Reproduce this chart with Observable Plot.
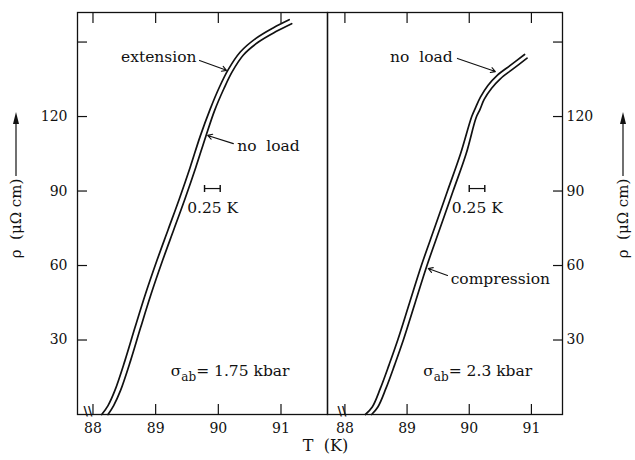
<!DOCTYPE html>
<html>
<head>
<meta charset="utf-8">
<script src="https://cdn.jsdelivr.net/npm/d3@7"></script>
<script src="https://cdn.jsdelivr.net/npm/@observablehq/plot@0.6"></script>
<style>
  html, body { margin: 0; padding: 0; background: #fff; }
  #wrap { position: relative; width: 635px; height: 460px; overflow: hidden; }
  #wrap svg { position: absolute; top: 0; overflow: visible; }
</style>
</head>
<body>
<div id="wrap"></div>
<script>
// ---------- data (T in K, rho in µΩ cm) ----------
const xTicks = [88, 89, 90, 91];
const yTicks = [30, 60, 90, 120, 150];
const yTickLabels = [30, 60, 90, 120];

// left panel, sigma_ab = 1.75 kbar
const leftExtensionT   = [88.14, 88.24, 88.35, 88.51, 88.67, 88.84, 89.02, 89.20, 89.38, 89.55, 89.71, 89.87, 90.02, 90.16, 90.35, 90.60, 90.88, 91.13];
const leftExtensionRho = [0, 3.6, 9.7, 21.7, 35, 48.7, 62, 74.5, 87, 99.5, 112, 123, 132, 139, 146, 151.5, 155.8, 159];
const leftNoLoadT      = [88.24, 88.33, 88.44, 88.60, 88.76, 88.93, 89.11, 89.29, 89.47, 89.64, 89.80, 89.94, 90.09, 90.22, 90.40, 90.64, 90.92, 91.17];
const leftNoLoadRho    = [0, 3.6, 9.7, 21.7, 35, 48.7, 62, 74.5, 87, 99.5, 112, 122.4, 131.3, 138, 144.8, 150, 154.2, 157.4];

// right panel, sigma_ab = 2.3 kbar
const rightNoLoadT        = [88.33, 88.44, 88.57, 88.71, 88.85, 89.04, 89.23, 89.44, 89.65, 89.86, 90.04, 90.10, 90.18, 90.30, 90.45, 90.66, 90.89];
const rightNoLoadRho      = [0, 3, 10.5, 20, 30, 45, 60, 75, 90, 105, 120, 123.5, 127.8, 132.5, 136.6, 140.6, 145];
const rightCompressionT   = [88.43, 88.53, 88.66, 88.80, 88.94, 89.13, 89.32, 89.53, 89.74, 89.95, 90.11, 90.17, 90.24, 90.36, 90.50, 90.70, 90.93];
const rightCompressionRho = [0, 3, 10.5, 20, 30, 45, 60, 75, 90, 105, 119.5, 122.7, 126.9, 131.4, 135.2, 139.1, 143.5];

// annotations (data coordinates)
const leftTexts  = [
  {text: "extension", T: 89.05, rho: 143.8},
  {text: "no  load",  T: 90.80, rho: 108.3},
  {text: "0.25 K",    T: 89.91, rho: 83}
];
const leftArrows = [
  {x1: 89.70, y1: 142.6, x2: 90.13, y2: 138.6},
  {x1: 90.24, y1: 109.1, x2: 89.83, y2: 112.4}
];
const leftBar   = [{x1: 89.78, x2: 90.03, y: 91}];
const leftSigma = [{text: "σab= 1.75 kbar", T: 89.24, rho: 17.7}];

const rightTexts = [
  {text: "no  load",    T: 89.23, rho: 143.8},
  {text: "compression", T: 90.50, rho: 54.4},
  {text: "0.25 K",      T: 90.13, rho: 83}
];
const rightArrows = [
  {x1: 89.81, y1: 143.4, x2: 90.42, y2: 138.1},
  {x1: 89.65, y1: 56.0,  x2: 89.34, y2: 58.8}
];
const rightBar   = [{x1: 90.00, x2: 90.25, y: 91}];
const rightSigma = [{text: "σab= 2.3 kbar", T: 89.26, rho: 17.7}];

const yLabel = "ρ  (μΩ cm)";
const xLabel = "T  (K)";

// ---------- drawing ----------
const FONT = "DejaVu Serif, serif";
const INK = "#111";
const pts = (T, R) => T.map((t, i) => ({T: t, rho: R[i]}));

function panel({side, xDomain, width, marginLeft, marginRight, curves, texts, arrows, bar, sigma, extra = []}) {
  const isLeft = side === "left";
  return Plot.plot({
    width, height: 460,
    marginLeft, marginRight, marginTop: 12, marginBottom: 46,
    style: {fontFamily: FONT, fontSize: "13px", color: INK, background: "transparent", overflow: "visible"},
    x: {domain: xDomain},
    y: {domain: [0, 161.9]},
    marks: [
      Plot.frame({stroke: INK, strokeWidth: 1.3}),
      Plot.axisX({anchor: "bottom", ticks: xTicks, tickSize: -10, fill: "none", strokeWidth: 1.2}),
      Plot.axisX({anchor: "top", ticks: xTicks, tickSize: -10, fill: "none", strokeWidth: 1.2}),
      Plot.axisX({anchor: "bottom", ticks: xTicks, tickFormat: "d", tickSize: 0, tickPadding: 9, label: null, fontSize: 14}),
      Plot.axisY({anchor: side, ticks: yTicks, tickSize: -10, fill: "none", strokeWidth: 1.2}),
      Plot.axisY({anchor: side, ticks: yTickLabels, tickFormat: "d", tickSize: 0, tickPadding: isLeft ? 10 : 4, label: null, fontSize: 14}),
      ...curves.map(c => Plot.line(c, {x: "T", y: "rho", curve: "catmull-rom", stroke: INK, strokeWidth: 1.7})),
      Plot.arrow(arrows, {x1: "x1", y1: "y1", x2: "x2", y2: "y2", stroke: INK, strokeWidth: 1.1, headLength: 7}),
      Plot.link(bar, {x1: "x1", x2: "x2", y1: "y", y2: "y", stroke: INK, strokeWidth: 1.2, markerStart: "tick", markerEnd: "tick"}),
      Plot.text(texts, {x: "T", y: "rho", text: "text", fontSize: 15.5}),
      Plot.text(sigma, {x: "T", y: "rho", text: "text", textAnchor: "start", fontSize: 15.5}),
      Plot.text([yLabel], {frameAnchor: side, textAnchor: "middle", dx: isLeft ? -61 : 61, dy: 5, rotate: -90, fontSize: 15}),
      Plot.text(["\\\\"], {frameAnchor: "bottom-left", dx: isLeft ? 6 : 10, fontSize: 12, fontWeight: "bold", fontFamily: "DejaVu Sans"}),
      ...extra
    ]
  });
}

const leftPlot = panel({
  side: "left", xDomain: [87.753, 91.742], width: 340, marginLeft: 77, marginRight: 13,
  curves: [pts(leftExtensionT, leftExtensionRho), pts(leftNoLoadT, leftNoLoadRho)],
  texts: leftTexts, arrows: leftArrows, bar: leftBar, sigma: leftSigma,
  extra: [Plot.text([xLabel], {frameAnchor: "bottom-right", dy: 36, dx: -2, textAnchor: "middle", fontSize: 16})]
});
const rightPlot = panel({
  side: "right", xDomain: [87.72, 91.50], width: 335, marginLeft: 27, marginRight: 73,
  curves: [pts(rightNoLoadT, rightNoLoadRho), pts(rightCompressionT, rightCompressionRho)],
  texts: rightTexts, arrows: rightArrows, bar: rightBar, sigma: rightSigma
});

const wrap = document.getElementById("wrap");
leftPlot.style.left = "0px";
rightPlot.style.left = "300px";
wrap.appendChild(leftPlot);
wrap.appendChild(rightPlot);

// subscript in sigma_ab labels and arrow of the rotated y label
for (const svg of [leftPlot, rightPlot]) {
  d3.select(svg).selectAll("text").each(function () {
    const t = this.textContent;
    if (t.startsWith("σab")) {
      const sel = d3.select(this);
      sel.text(null);
      sel.append("tspan").text("σ");
      sel.append("tspan").attr("dy", 5).attr("font-size", 12).text("ab");
      sel.append("tspan").attr("dy", -5).text(t.slice(3));
    }
  });
}
function yArrow(svg, x) {
  const g = d3.select(svg).append("g").attr("stroke", INK).attr("fill", INK);
  g.append("line").attr("x1", x).attr("x2", x).attr("y1", 176).attr("y2", 122).attr("stroke-width", 1.2);
  g.append("path").attr("d", `M${x},112L${x - 3},124L${x + 3},124Z`).attr("stroke", "none");
}
yArrow(leftPlot, 77 - 61);
yArrow(rightPlot, 562 - 300 + 61);
</script>
</body>
</html>
